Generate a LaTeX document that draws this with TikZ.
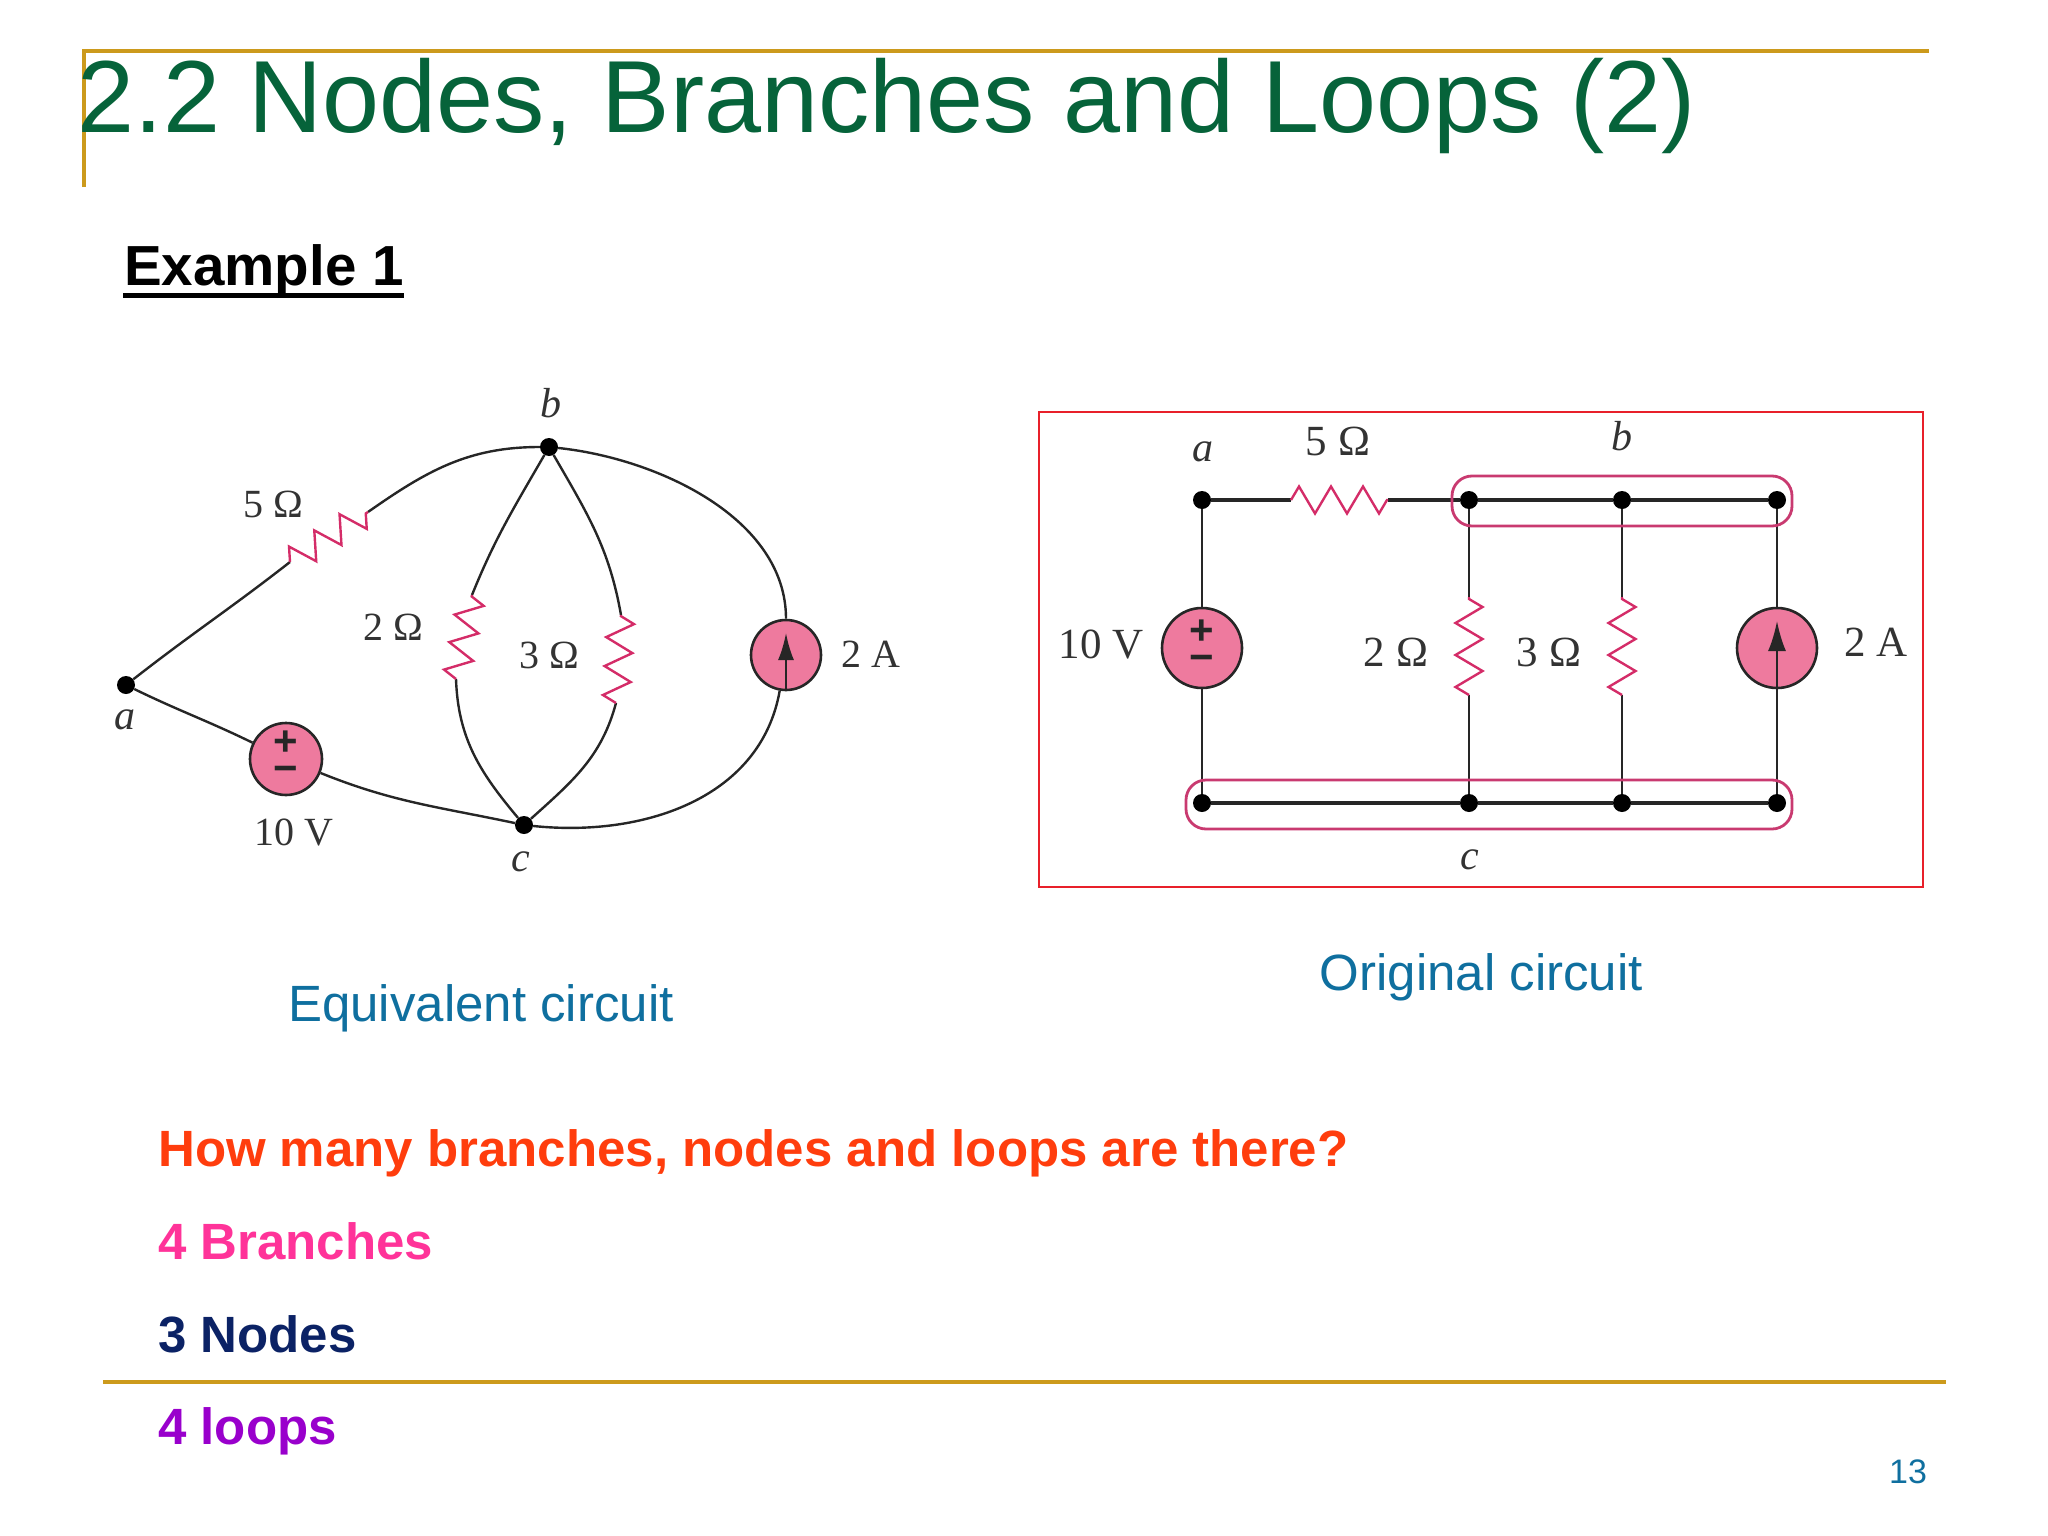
\documentclass[tikz,border=0pt]{standalone}
\usepackage{fontspec}
\setmainfont{Liberation Sans}
\newfontfamily\circfont{Liberation Serif}
\usetikzlibrary{arrows.meta,decorations.pathmorphing}
\definecolor{rulegold}{HTML}{CC9A1C}
\definecolor{titlegreen}{HTML}{06633A}
\definecolor{capblue}{HTML}{0F6F9F}
\definecolor{askred}{HTML}{FF3D0D}
\definecolor{branchpink}{HTML}{FF3399}
\definecolor{nodenavy}{HTML}{0B2265}
\definecolor{loopviolet}{HTML}{9900CC}
\definecolor{srcpink}{HTML}{EE7A9E}
\definecolor{respink}{HTML}{D42C68}
\definecolor{boxpink}{HTML}{C93A70}
\definecolor{framered}{HTML}{E8202A}
\definecolor{wiregray}{HTML}{262626}
\tikzset{
  gold/.style={draw=rulegold,line width=4.5pt},
  wire/.style={draw=wiregray,line width=2.4pt},
  busline/.style={draw=wiregray,line width=3.2pt},
  dot/.style={circle,fill=black,inner sep=0pt,minimum size=#1},
  dot/.default=18pt,
  src/.style={circle,draw=wiregray,line width=2.6pt,fill=srcpink,inner sep=0pt,minimum size=#1},
  sgn/.style={align=center,text=black!85,text depth=4pt,font=\bfseries\fontsize{42}{27}\selectfont},
  res/.style={draw=respink,line width=2.4pt,decorate,decoration={zigzag,segment length=#1,amplitude=13.5pt}},
  res/.default=30pt,
  lbl/.style={inner sep=0pt,text=black!80,font=\circfont\fontsize{#1}{#1}\selectfont},
  lbl/.default=40,
  itlbl/.style={inner sep=0pt,text=black!80,font=\circfont\itshape\fontsize{42}{42}\selectfont},
  hole/.style={draw=boxpink,line width=2.8pt,rounded corners=20pt},
  slide/.style={anchor=base west,inner sep=0pt,font=\fontsize{#1}{#1}\selectfont},
  boldline/.style={anchor=base west,inner sep=0pt,font=\bfseries\fontsize{51}{51}\selectfont},
}
\begin{document}
\begin{tikzpicture}[x=1pt,y=1pt]
    \useasboundingbox (0,0) rectangle (2048,-1536);
    % Slide
    \coordinate (ga) at (84,-51);
    \coordinate (gb) at (1929,-51);
    \coordinate (gc) at (84,-187);
    \coordinate (gd) at (103,-1382);
    \coordinate (ge) at (1946,-1382);
    \draw[gold] (gc) -- (ga) -- (gb);
    \draw[gold] (gd) -- (ge);
    \node[slide=102.5,text=titlegreen] (title) at (77.5,-133) {2.2 Nodes, Branches and Loops (2)};
    \node[anchor=base west,inner sep=0pt,font=\bfseries\fontsize{56.5}{56.5}\selectfont] (example) at (124,-285) {Example 1};
    \coordinate (ula) at (123,-295);
    \coordinate (ulb) at (404,-295);
    \draw[line width=5pt] (ula) -- (ulb);
    % Equivalent circuit
    \node[dot] (a) at (126,-685) {};
    \node[dot] (b) at (549,-447) {};
    \node[dot] (c) at (524,-825) {};
    \node[src=72pt,sgn] (s10) at (286,-759) {+\\\textminus};
    \node[src=70pt] (s2) at (786,-655) {};
    \coordinate (r5a) at (290,-562);
    \coordinate (r5b) at (368,-512);
    \coordinate (r2a) at (472,-595);
    \coordinate (r2b) at (456,-679);
    \coordinate (r3a) at (621,-615);
    \coordinate (r3b) at (616,-703);
    \draw[wire] (a) to[out=38,in=-142] (r5a);
    \draw[wire] (r5b) to[out=35,in=180] (b);
    \draw[wire] (b) to[out=-120,in=68] (r2a);
    \draw[wire] (r2b) to[out=-88,in=130] (c);
    \draw[wire] (b) to[out=-60,in=100] (r3a);
    \draw[wire] (r3b) to[out=-105,in=42] (c);
    \draw[wire] (b) to[out=-6,in=90,looseness=0.9] (s2);
    \draw[wire] (s2) to[out=-100,in=-6] (c);
    \draw[wire] (a) to[out=-26,in=154] (s10);
    \draw[wire] (s10) to[out=-22,in=168] (c);
    \draw[res=30pt] (r5a) -- (r5b);
    \draw[res=28pt] (r2b) -- (r2a);
    \draw[res=29pt] (r3b) -- (r3a);
    \draw[wire,-{Latex[length=27pt,width=16pt]}] (s2.south) -- ([yshift=22pt]s2.center);
    \node[lbl] (l5) at (273,-504) {5 Ω};
    \node[lbl] (l2) at (393,-627) {2 Ω};
    \node[lbl] (l3) at (549,-655) {3 Ω};
    \node[lbl] (l2a) at (871,-654) {2 A};
    \node[lbl] (l10) at (294,-832) {10 V};
    \node[itlbl] (la) at (125,-720) {a};
    \node[itlbl] (lb) at (551,-403) {b};
    \node[itlbl] (lc) at (521,-862) {c};
    % Original circuit
    \draw[draw=framered,line width=2.4pt] (1039,-412) rectangle (1923,-887);
    \node[dot] (oa) at (1202,-500) {};
    \node[dot] (ob1) at (1469,-500) {};
    \node[dot] (ob2) at (1622,-500) {};
    \node[dot] (ob3) at (1777,-500) {};
    \node[dot] (oc1) at (1202,-803) {};
    \node[dot] (oc2) at (1469,-803) {};
    \node[dot] (oc3) at (1622,-803) {};
    \node[dot] (oc4) at (1777,-803) {};
    \node[src=80pt,sgn] (os10) at (1202,-648) {+\\\textminus};
    \node[src=80pt] (os2) at (1777,-648) {};
    \coordinate (or5a) at (1291,-500);
    \coordinate (or5b) at (1388,-500);
    \coordinate (or2a) at (1469,-597);
    \coordinate (or2b) at (1469,-695);
    \coordinate (or3a) at (1622,-597);
    \coordinate (or3b) at (1622,-695);
    \draw[busline] (oa) -- (or5a);
    \draw[busline] (or5b) -- (ob1) -- (ob2) -- (ob3);
    \draw[busline] (oc1) -- (oc2) -- (oc3) -- (oc4);
    \draw[wire] (oa) -- (os10);
    \draw[wire] (os10) -- (oc1);
    \draw[wire] (ob1) -- (or2a);
    \draw[wire] (or2b) -- (oc2);
    \draw[wire] (ob2) -- (or3a);
    \draw[wire] (or3b) -- (oc3);
    \draw[wire] (ob3) -- (os2);
    \draw[wire] (os2) -- (oc4);
    \draw[res=32pt] (or5a) -- (or5b);
    \draw[res=32pt] (or2b) -- (or2a);
    \draw[res=32pt] (or3b) -- (or3a);
    \draw[hole] (1452,-476) rectangle (1792,-526);
    \draw[hole] (1186,-780) rectangle (1792,-829);
    \draw[wire,-{Latex[length=30pt,width=18pt]}] (os2.south) -- ([yshift=27pt]os2.center);
    \node[lbl=43] (ol5) at (1338,-441) {5 Ω};
    \node[lbl=43] (ol2) at (1396,-652) {2 Ω};
    \node[lbl=43] (ol3) at (1549,-652) {3 Ω};
    \node[lbl=43] (ol2a) at (1876,-642) {2 A};
    \node[lbl=43] (ol10) at (1101,-645) {10 V};
    \node[itlbl] (ola) at (1203,-452) {a};
    \node[itlbl] (olb) at (1622,-436) {b};
    \node[itlbl] (olc) at (1470,-860) {c};
    % Captions and text
    \node[slide=51,text=capblue] (eqcap) at (288,-1021) {Equivalent circuit};
    \node[slide=51,text=capblue] (orcap) at (1319.5,-990) {Original circuit};
    \node[boldline,text=askred] (ask) at (158,-1166) {How many branches, nodes and loops are there?};
    \node[boldline,text=branchpink] (ans1) at (158,-1259) {4 Branches};
    \node[boldline,text=nodenavy] (ans2) at (158,-1352) {3 Nodes};
    \node[boldline,text=loopviolet] (ans3) at (158,-1444) {4 loops};
    \node[slide=34,text=capblue] (page) at (1889,-1483) {13};
  \end{tikzpicture}
\end{document}
